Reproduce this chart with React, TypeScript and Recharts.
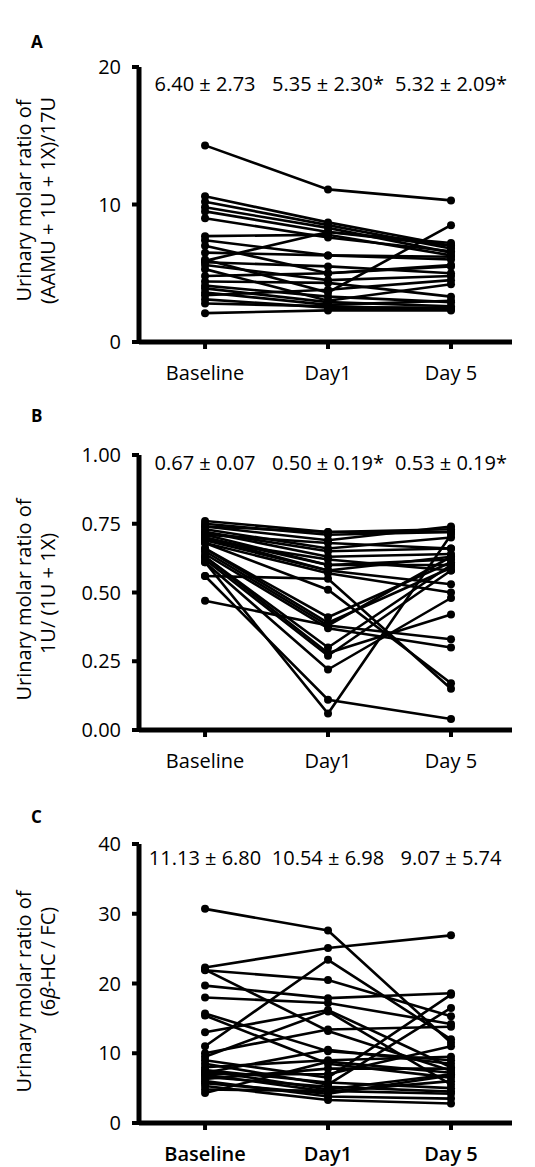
import React from 'react';
import { LineChart, Line, XAxis, YAxis, ReferenceDot, Label } from 'recharts';

const FONT = '"Open Sans", "DejaVu Sans", sans-serif';

const timepoints = ['Baseline', 'Day1', 'Day 5'];

// Panel A: (AAMU + 1U + 1X)/17U, one entry per subject
const aBaseline = [14.3, 10.6, 10.2, 9.8, 9.5, 9.0, 7.7, 7.4, 6.0, 6.5, 5.9, 5.8, 5.6, 5.3, 4.8, 4.4, 4.1, 3.9, 3.6, 3.4, 3.1, 2.8, 2.1, 7.0];
const aDay1 = [11.1, 8.7, 8.5, 8.3, 8.0, 7.6, 7.8, 6.3, 3.6, 6.3, 8.0, 5.5, 4.5, 3.0, 5.0, 4.3, 3.3, 2.9, 2.7, 3.8, 2.5, 2.6, 2.3, 5.0];
const aDay5 = [10.3, 7.0, 6.8, 6.5, 7.2, 6.6, 6.3, 6.2, 8.5, 6.0, 7.0, 5.0, 4.8, 4.2, 5.5, 3.3, 2.9, 2.6, 3.0, 4.5, 2.5, 2.4, 2.3, 5.6];
const aSummary = ['6.40 ± 2.73', '5.35 ± 2.30*', '5.32 ± 2.09*'];
const aTicks = [0, 10, 20];

// Panel B: 1U/(1U + 1X)
const bBaseline = [0.76, 0.75, 0.74, 0.73, 0.72, 0.72, 0.71, 0.70, 0.70, 0.69, 0.68, 0.68, 0.56, 0.66, 0.66, 0.65, 0.64, 0.63, 0.63, 0.62, 0.61, 0.61, 0.56, 0.47, 0.69, 0.74, 0.71];
const bDay1 = [0.72, 0.71, 0.69, 0.66, 0.65, 0.63, 0.60, 0.58, 0.60, 0.58, 0.57, 0.51, 0.55, 0.41, 0.39, 0.38, 0.37, 0.30, 0.28, 0.27, 0.22, 0.06, 0.11, 0.38, 0.62, 0.72, 0.68];
const bDay5 = [0.73, 0.72, 0.74, 0.70, 0.66, 0.64, 0.62, 0.63, 0.60, 0.53, 0.50, 0.17, 0.15, 0.61, 0.59, 0.63, 0.30, 0.60, 0.42, 0.58, 0.48, 0.71, 0.04, 0.33, 0.58, 0.72, 0.66];
const bSummary = ['0.67 ± 0.07', '0.50 ± 0.19*', '0.53 ± 0.19*'];
const bTicks = [0, 0.25, 0.5, 0.75, 1];

// Panel C: 6β-HC / FC
const cBaseline = [30.7, 22.3, 21.9, 22.0, 19.7, 18.0, 15.7, 15.4, 13.0, 11.0, 10.0, 9.5, 9.0, 8.5, 8.0, 7.5, 7.0, 7.6, 7.2, 6.9, 6.6, 6.3, 6.0, 5.7, 5.3, 4.8, 4.3];
const cDay1 = [27.6, 25.1, 20.5, 13.2, 17.9, 17.2, 10.3, 8.5, 16.2, 23.4, 13.4, 16.0, 6.5, 5.5, 9.0, 4.8, 7.0, 5.8, 10.5, 4.5, 5.2, 7.8, 3.8, 4.2, 3.3, 4.6, 8.8];
const cDay5 = [11.5, 26.9, 15.3, 7.5, 18.6, 14.2, 9.0, 6.5, 8.0, 12.0, 13.8, 5.5, 18.4, 16.5, 9.5, 7.0, 11.0, 5.0, 8.5, 6.0, 4.5, 7.8, 3.5, 6.8, 2.8, 4.2, 7.2];
const cSummary = ['11.13 ± 6.80', '10.54 ± 6.98', '9.07 ± 5.74'];
const cTicks = [0, 10, 20, 30, 40];

function buildRows(cols: number[][]) {
  return cols.map((vals, i) => {
    const row: Record<string, number> = { t: i };
    vals.forEach((v, s) => {
      row['s' + s] = v;
    });
    return row;
  });
}

interface PanelProps {
  plotTop: number;
  plotHeight: number;
  cols: number[][];
  ticks: number[];
  fmt: (v: number) => string;
  summary: string[];
  summaryY: number;
  title1: React.ReactNode;
  title2: React.ReactNode;
  title1Dy: number;
  title2Dy: number;
  boldCats?: boolean;
}

const PAD_TOP = 60;
const X_AXIS_H = 60;

function Panel(p: PanelProps) {
  const data = buildRows(p.cols);
  const n = p.cols[0].length;
  const keys = Array.from({ length: n }, (_, s) => 's' + s);
  const top = p.plotTop - PAD_TOP;

  const renderTitle = (props: any) => {
    const vb = props.viewBox || { y: PAD_TOP, height: p.plotHeight };
    const cy = vb.y + vb.height / 2;
    const common = { textAnchor: 'middle' as const, dominantBaseline: 'central' as const, fontSize: 20, fontFamily: FONT, fill: '#000' };
    return (
      <g>
        <text transform={`translate(23, ${cy + p.title1Dy}) rotate(-90)`} {...common}>{p.title1}</text>
        <text transform={`translate(47, ${cy + p.title2Dy}) rotate(-90)`} {...common}>{p.title2}</text>
      </g>
    );
  };

  return (
    <div style={{ position: 'absolute', left: 0, top }}>
      <LineChart
        width={535}
        height={PAD_TOP + p.plotHeight + X_AXIS_H}
        data={data}
        margin={{ top: PAD_TOP, right: 23, bottom: 0, left: 0 }}
      >
        <XAxis
          dataKey="t"
          type="number"
          domain={[-0.537, 2.496]}
          ticks={[0, 1, 2]}
          tickFormatter={(v: number) => timepoints[v]}
          height={X_AXIS_H}
          axisLine={{ stroke: '#000', strokeWidth: 5 }}
          tickLine={{ stroke: '#000', strokeWidth: 4 }}
          tickSize={7}
          tickMargin={17}
          tick={{ fill: '#000', fontSize: 20, fontFamily: FONT, fontWeight: p.boldCats ? 600 : 400 }}
        />
        <YAxis
          type="number"
          domain={[p.ticks[0], p.ticks[p.ticks.length - 1]]}
          ticks={p.ticks}
          tickFormatter={p.fmt}
          width={139}
          axisLine={{ stroke: '#000', strokeWidth: 5 }}
          tickLine={{ stroke: '#000', strokeWidth: 4 }}
          tickSize={7}
          tickMargin={11}
          tick={{ fill: '#000', fontSize: 20, fontFamily: FONT }}
        >
          <Label content={renderTitle} />
        </YAxis>
        {keys.map((k) => (
          <Line
            key={k}
            type="linear"
            dataKey={k}
            stroke="#000"
            strokeWidth={2.6}
            dot={{ r: 4, fill: '#000', stroke: '#000', strokeWidth: 0 }}
            isAnimationActive={false}
          />
        ))}
        {p.summary.map((s, i) => (
          <ReferenceDot
            key={'sum' + i}
            x={i}
            y={p.summaryY}
            r={0}
            fill="none"
            stroke="none"
            label={<Label value={s} position="center" fontSize={20} fontFamily={FONT} fill="#000" />}
          />
        ))}
      </LineChart>
    </div>
  );
}

const letterStyle: React.CSSProperties = {
  position: 'absolute',
  left: 31,
  fontFamily: FONT,
  fontWeight: 700,
  fontSize: 17,
  lineHeight: '20px',
  color: '#000',
};

export default function App() {
  return (
    <div style={{ position: 'absolute', left: 0, top: 0, width: 535, height: 1167, background: '#fff' }}>
      <Panel
        plotTop={67}
        plotHeight={275}
        cols={[aBaseline, aDay1, aDay5]}
        ticks={aTicks}
        fmt={(v) => String(v)}
        summary={aSummary}
        summaryY={18.8}
        title1="Urinary molar ratio of"
        title2="(AAMU + 1U + 1X)/17U"
        title1Dy={-4}
        title2Dy={-4}
      />
      <Panel
        plotTop={455}
        plotHeight={275}
        cols={[bBaseline, bDay1, bDay5]}
        ticks={bTicks}
        fmt={(v) => v.toFixed(2)}
        summary={bSummary}
        summaryY={0.97}
        title1="Urinary molar ratio of"
        title2="1U/ (1U + 1X)"
        title1Dy={7}
        title2Dy={1}
      />
      <Panel
        plotTop={844}
        plotHeight={279}
        cols={[cBaseline, cDay1, cDay5]}
        ticks={cTicks}
        fmt={(v) => String(v)}
        summary={cSummary}
        summaryY={38}
        title1="Urinary molar ratio of"
        title2={
          <>
            (6<tspan fontStyle="italic">β</tspan>-HC / FC)
          </>
        }
        title1Dy={8}
        title2Dy={-22}
        boldCats
      />
      <div style={{ ...letterStyle, top: 32 }}>A</div>
      <div style={{ ...letterStyle, top: 406 }}>B</div>
      <div style={{ ...letterStyle, top: 807 }}>C</div>
    </div>
  );
}
